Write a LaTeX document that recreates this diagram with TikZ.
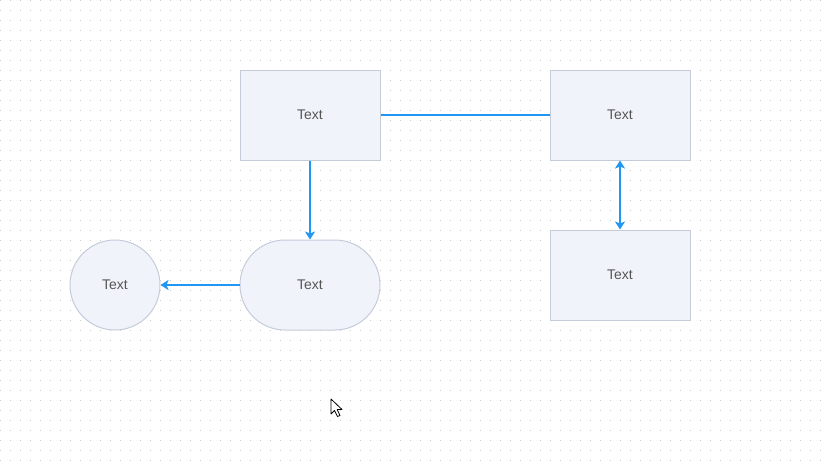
\documentclass[tikz,border=0pt]{standalone}
\usepackage{fontspec}
\setmainfont{Liberation Sans}
\usepackage{xcolor}
\usetikzlibrary{arrows.meta}

\definecolor{linkblue}{HTML}{2196F3}
\definecolor{boxfill}{HTML}{F0F3FA}
\definecolor{boxline}{HTML}{C4CCDA}
\definecolor{txtgray}{HTML}{555555}
\definecolor{griddot}{HTML}{CCCCCC}

\begin{document}
\begin{tikzpicture}[
  x=0.75pt, y=-0.75pt,
  box/.style={rectangle, draw=boxline, fill=boxfill, line width=0.75pt,
              minimum width=105pt, minimum height=67.5pt,
              font=\fontsize{10.5}{12}\selectfont, text=txtgray},
  pill/.style={box, rounded corners=33.75pt},
  circ/.style={circle, draw=boxline, fill=boxfill, line width=0.75pt,
               minimum size=67.5pt, inner sep=0pt,
               font=\fontsize{10.5}{12}\selectfont, text=txtgray},
  link/.style={draw=linkblue, line width=1.5pt},
  arr/.style={link, -{Stealth[length=6pt, width=7.5pt, inset=1.5pt]}},
  darr/.style={link, {Stealth[length=6pt, width=7.5pt, inset=1.5pt]}-{Stealth[length=6pt, width=7.5pt, inset=1.5pt]}}
]
\useasboundingbox[fill=white] (0,0) rectangle (822,462);
% dotted canvas
\foreach \gx in {0,10,...,820}
  \foreach \gy in {0,10,...,460}
    \fill[griddot] (\gx,\gy) rectangle ++(1.2,1.2);

\node[box] (topleft) at (310,115) {Text};
\node[box] (topright) at (620,115) {Text};
\node[box] (lowright) at (620,275) {Text};
\node[pill] (middle) at (310,285) {Text};
\node[circ] (round) at (115,285) {Text};

\draw[link] (topleft) -- (topright);
\draw[arr] (topleft) -- (middle);
\draw[arr] (middle) -- (round);
\draw[darr] (topright) -- (lowright);

% mouse pointer
\draw[fill=white, line width=0.6pt, line join=round]
  (331,399) -- (331,414) -- (334.5,410.5) -- (337.5,416.5) -- (340,415.5)
  -- (337.2,409.5) -- (342,409.5) -- cycle;
\end{tikzpicture}
\end{document}
